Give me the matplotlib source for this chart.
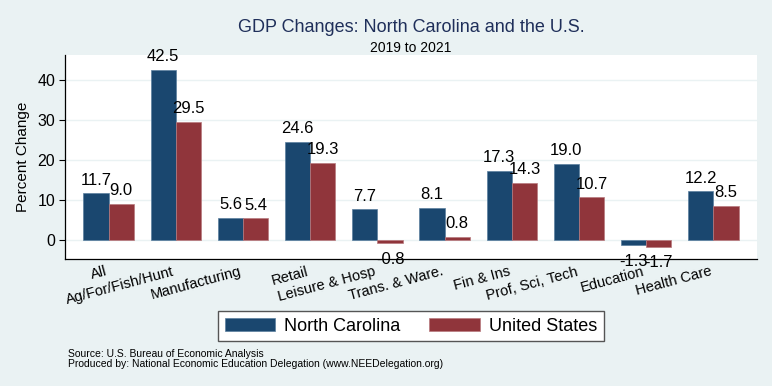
import matplotlib.pyplot as plt
import numpy as np

plt.rcParams['font.family'] = ['Liberation Sans', 'DejaVu Sans']

categories = ["All", "Ag/For/Fish/Hunt", "Manufacturing", "Retail", "Leisure & Hosp",
              "Trans. & Ware.", "Fin & Ins", "Prof, Sci, Tech", "Education", "Health Care"]
north_carolina = [11.7, 42.5, 5.6, 24.6, 7.7, 8.1, 17.3, 19.0, -1.3, 12.2]
united_states = [9.0, 29.5, 5.4, 19.3, -0.8, 0.8, 14.3, 10.7, -1.7, 8.5]
y_ticks = [0, 10, 20, 30, 40]

bg = '#eaf2f3'
nc_color = '#1a476f'
us_color = '#90353b'

fig = plt.figure(figsize=(7.72, 3.86), dpi=100, facecolor=bg)
ax = fig.add_axes([0.0842, 0.329, 0.8964, 0.5285])
ax.set_facecolor('white')

x = np.arange(len(categories))
w = 0.376
bars_nc = ax.bar(x - w / 2, north_carolina, w, color=nc_color, edgecolor='#5a7f9f',
                 linewidth=0.5, label='North Carolina', zorder=3)
bars_us = ax.bar(x + w / 2, united_states, w, color=us_color, edgecolor='#b87a7e',
                 linewidth=0.5, label='United States', zorder=3)

# value labels, above positive bars and below negative ones
for bars, vals in [(bars_nc, north_carolina), (bars_us, united_states)]:
    for b, v in zip(bars, vals):
        cx = b.get_x() + b.get_width() / 2
        if v >= 0:
            ax.annotate(f"{v:.1f}", (cx, v), xytext=(0, 4), textcoords='offset points',
                        ha='center', va='bottom', fontsize=12, zorder=4)
        else:
            ax.annotate(f"{v:.1f}", (cx, v), xytext=(0, -6), textcoords='offset points',
                        ha='center', va='top', fontsize=12, zorder=4)

ax.set_xlim(-0.65, 9.65)
ax.set_ylim(-4.75, 46.25)
ax.set_yticks(y_ticks)
ax.set_yticklabels([str(t) for t in y_ticks], fontsize=11.5)
ax.yaxis.grid(True, color=bg, linewidth=1, zorder=0)
ax.set_xticks(x)
ax.set_xticklabels(categories, rotation=15, ha='right', va='top', fontsize=10.5)
ax.tick_params(axis='x', length=0, pad=4)
ax.tick_params(axis='y', length=4, width=0.8, pad=3)
ax.set_ylabel("Percent Change", fontsize=11, labelpad=5)

for s in ['top', 'right']:
    ax.spines[s].set_visible(False)
for s in ['left', 'bottom']:
    ax.spines[s].set_linewidth(0.9)

fig.text(0.5324, 0.918, "GDP Changes: North Carolina and the U.S.", ha='center',
         va='baseline', fontsize=13, color='#1f2f5a')
fig.text(0.5324, 0.866, "2019 to 2021", ha='center', va='baseline', fontsize=10)

leg = fig.legend(loc='center', bbox_to_anchor=(0.5324, 0.1554), bbox_transform=fig.transFigure,
                 ncol=2, fontsize=13, handlelength=2.8, handleheight=0.72, handletextpad=0.5,
                 columnspacing=1.6, borderpad=0.35, fancybox=False, framealpha=1)
leg.get_frame().set_edgecolor('#555555')
leg.get_frame().set_linewidth(1.0)

fig.text(68 / 772, (386 - 356.7) / 386, "Source: U.S. Bureau of Economic Analysis",
         fontsize=7.5, va='baseline')
fig.text(68 / 772, (386 - 366.7) / 386,
         "Produced by: National Economic Education Delegation (www.NEEDelegation.org)",
         fontsize=7.5, va='baseline')

fig.savefig("out.png", dpi=100, facecolor=bg)
